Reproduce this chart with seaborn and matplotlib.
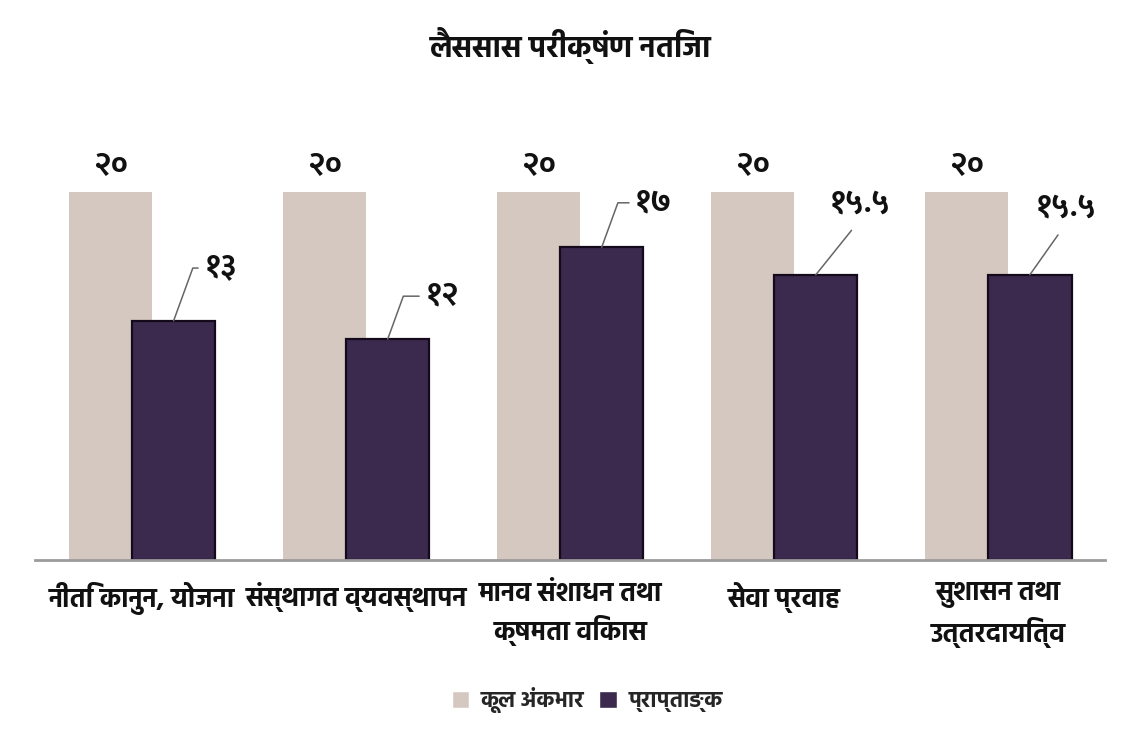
import os
import numpy as np
import matplotlib
matplotlib.use("Agg")
import matplotlib.pyplot as plt
import seaborn as sns
import pandas as pd
from matplotlib import font_manager, ft2font

# ---------------- data ----------------
categories = [
    "नीति कानुन, योजना",
    "संस्थागत व्यवस्थापन",
    "मानव संशाधन तथा\nक्षमता विकास",
    "सेवा प्रवाह",
    "सुशासन तथा\nउत्तरदायित्व",
]
total_marks = [20, 20, 20, 20, 20]
obtained_marks = [13, 12, 17, 15.5, 15.5]
series_names = ["कूल अंकभार", "प्राप्ताङ्क"]
title_text = "लैससास परीक्षंण नतिजा"

# ---------------- fonts ----------------
TEXT_PREF = ["Hind-Bold", "NotoSansDevanagari-Bold", "Mukta-Bold",
             "EkMukta-Bold", "Halant-Bold", "FreeSansBold"]
DIGIT_PREF = ["NotoSansDevanagari-Bold", "Mukta-Bold", "EkMukta-Bold", "Biryani-Bold",
              "Amiko-Bold", "Arya-Bold", "Halant-Bold", "Glegoo-Bold", "FreeSansBold",
              "Hind-Bold"]

ALL_PATHS = sorted(font_manager.findSystemFonts())

def has_devanagari(p):
    try:
        return 0x0915 in ft2font.FT2Font(p).get_charmap()
    except Exception:
        return False

def real_dev_digits(p):
    try:
        f = ft2font.FT2Font(p)
        cm = f.get_charmap()
        if 0x0968 not in cm:
            return False
        f.load_char(0x0968)
        v1 = np.asarray(f.get_path()[0])
        f.load_char(0x32)
        v2 = np.asarray(f.get_path()[0])
        return not (v1.shape == v2.shape and np.allclose(v1, v2))
    except Exception:
        return False

def pick(prefs, check):
    for key in prefs:
        for p in ALL_PATHS:
            if os.path.basename(p).startswith(key) and check(p):
                return p
    for p in ALL_PATHS:
        if "unifont" not in p.lower() and check(p):
            return p
    return None

sns.set_theme(style="white")
text_path = pick(TEXT_PREF, has_devanagari)
digit_path = pick(DIGIT_PREF, real_dev_digits) or text_path

def fp(size, path=None):
    path = path or text_path
    if path:
        return font_manager.FontProperties(fname=path, size=size)
    return font_manager.FontProperties(family="DejaVu Sans", weight="bold", size=size)

DEV_DIGITS = str.maketrans("0123456789", "०१२३४५६७८९")
def dev_num(v):
    return f"{v:g}".translate(DEV_DIGITS)

# ---------------- frame ----------------
df = pd.DataFrame({
    "category": categories * 2,
    "value": total_marks + obtained_marks,
    "series": [series_names[0]] * len(categories) + [series_names[1]] * len(categories),
})

beige = "#d8c7bc"
purple = "#3c2354"

fig = plt.figure(figsize=(11.29, 7.40), dpi=100)
ax = fig.add_axes([0.031, 0.2432, 0.948, 0.6216])

sns.barplot(
    data=df, x="category", y="value", hue="series",
    palette=[beige, purple], width=0.59, gap=-0.32,
    dodge=True, ax=ax, legend=True, errorbar=None,
)

for p in ax.containers[1]:
    p.set_edgecolor("#150a1c")
    p.set_linewidth(1.6)
for p in ax.containers[0]:
    p.set_edgecolor("none")

ax.set_xlim(-0.5, len(categories) - 0.5)
ax.set_ylim(0, 25)

# labels on total bars
ax.bar_label(ax.containers[0], labels=[dev_num(v) for v in total_marks],
             padding=7, fontproperties=fp(23, digit_path), color="#111111")

# leader-line labels on obtained bars (offsets in points)
offsets = [(22, 38, "hook"), (27, 31, "hook"), (24, 32, "hook"),
           (32, 51, "straight"), (26, 48, "straight")]
for bar, v, (dx, dy, kind) in zip(ax.containers[1], obtained_marks, offsets):
    x = bar.get_x() + bar.get_width() / 2
    y = bar.get_height()
    if kind == "hook":
        ax.annotate(dev_num(v), xy=(x, y), xytext=(dx, dy), textcoords="offset points",
                    ha="left", va="center", fontproperties=fp(23, digit_path), color="#111111",
                    arrowprops=dict(arrowstyle="-", color="#666666", lw=1.1,
                                    shrinkA=2, shrinkB=0, relpos=(0, 0.5),
                                    connectionstyle="angle,angleA=0,angleB=70,rad=0"))
    else:
        ax.annotate(dev_num(v), xy=(x, y), xytext=(dx, dy), textcoords="offset points",
                    ha="center", va="center", fontproperties=fp(23, digit_path), color="#111111",
                    arrowprops=dict(arrowstyle="-", color="#666666", lw=1.1,
                                    shrinkA=7, shrinkB=0, relpos=(0.5, 0),
                                    connectionstyle="arc3,rad=0"))

# axes styling
sns.despine(ax=ax, left=True, top=True, right=True)
ax.spines["bottom"].set_color("#9c9c9c")
ax.spines["bottom"].set_linewidth(2)
ax.set_yticks([])
ax.set_xlabel("")
ax.set_ylabel("")
ax.tick_params(axis="x", length=0, pad=16)
for lab in ax.get_xticklabels():
    lab.set_fontproperties(fp(19))
    lab.set_color("#111111")
    lab.set_linespacing(1.35)

# legend
handles, labels = ax.get_legend_handles_labels()
ax.legend(handles, labels, loc="center", bbox_to_anchor=(0.52, 0.054),
          bbox_transform=fig.transFigure, ncol=2, frameon=False,
          handlelength=0.8, handleheight=0.8, handletextpad=0.5, columnspacing=0.7,
          prop=fp(16))

fig.text(0.505, 0.939, title_text, ha="center", va="center",
         fontproperties=fp(21.5), color="#111111")

fig.savefig("out.png", dpi=100, facecolor="white")
